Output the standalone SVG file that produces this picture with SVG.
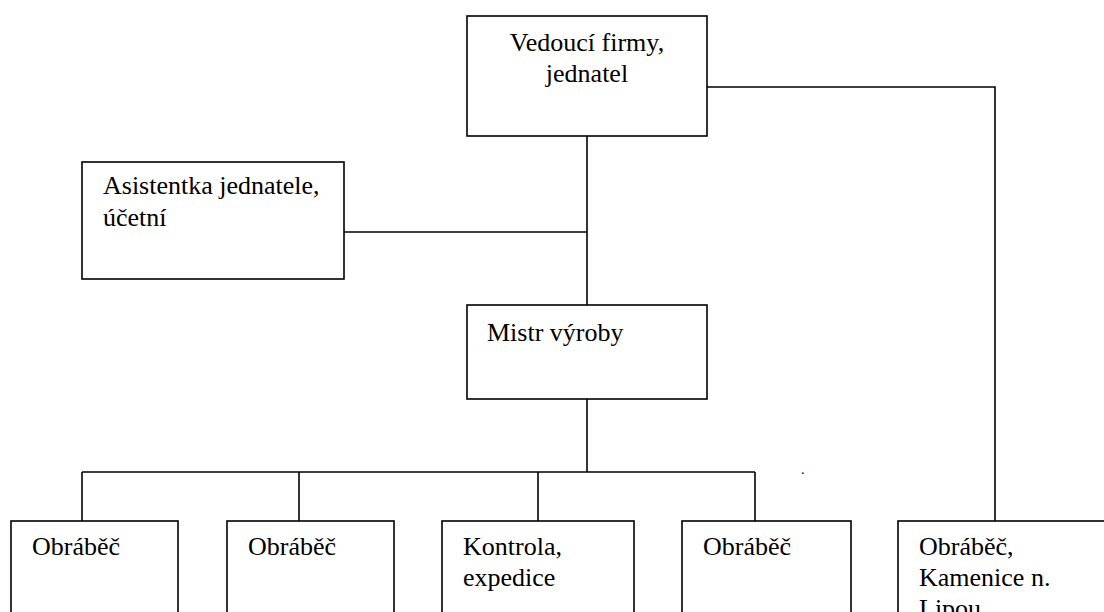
<svg xmlns="http://www.w3.org/2000/svg" width="1104" height="612" viewBox="0 0 1104 612">
<style>
.box{fill:#fff;stroke:#000;stroke-width:1.6}
.ln{fill:none;stroke:#000;stroke-width:1.6}
text{font-family:"Liberation Serif","Times New Roman",serif;font-size:26px;fill:#000}
.c{text-anchor:middle}
.dot{font-size:14px}
</style>
<rect width="1104" height="612" fill="#fff"/>
<g id="connectors">
<polyline class="ln" points="707,87 995,87 995,521"/>
<line class="ln" x1="587" y1="136" x2="587" y2="305"/>
<line class="ln" x1="344" y1="232" x2="587" y2="232"/>
<line class="ln" x1="587" y1="399" x2="587" y2="472"/>
<line class="ln" x1="82" y1="472" x2="755" y2="472"/>
<line class="ln" x1="82" y1="472" x2="82" y2="521"/>
<line class="ln" x1="299" y1="472" x2="299" y2="521"/>
<line class="ln" x1="538" y1="472" x2="538" y2="521"/>
<line class="ln" x1="755" y1="472" x2="755" y2="521"/>
</g>
<g id="n-vedouci">
<rect class="box" x="467" y="16" width="240" height="120"/>
<text class="c" x="587" y="51">Vedoucí firmy,</text>
<text class="c" x="587" y="82">jednatel</text>
</g>
<g id="n-asistentka">
<rect class="box" x="82" y="162" width="262" height="117"/>
<text x="103" y="194">Asistentka jednatele,</text>
<text x="103" y="226">účetní</text>
</g>
<g id="n-mistr">
<rect class="box" x="467" y="305" width="240" height="94"/>
<text x="487" y="341">Mistr výroby</text>
</g>
<g id="n-obrabec1">
<rect class="box" x="11" y="521" width="167" height="120"/>
<text x="32" y="555">Obráběč</text>
</g>
<g id="n-obrabec2">
<rect class="box" x="227" y="521" width="167" height="120"/>
<text x="248" y="555">Obráběč</text>
</g>
<g id="n-kontrola">
<rect class="box" x="442" y="521" width="192" height="120"/>
<text x="463" y="555">Kontrola,</text>
<text x="463" y="586">expedice</text>
</g>
<g id="n-obrabec4">
<rect class="box" x="682" y="521" width="169" height="120"/>
<text x="703" y="555">Obráběč</text>
</g>
<g id="n-obrabec-kamenice">
<rect class="box" x="898" y="521" width="240" height="120"/>
<text x="919" y="555">Obráběč,</text>
<text x="919" y="586">Kamenice n.</text>
<text x="919" y="617">Lipou</text>
</g>
<text class="dot" x="801" y="474">.</text>
</svg>
